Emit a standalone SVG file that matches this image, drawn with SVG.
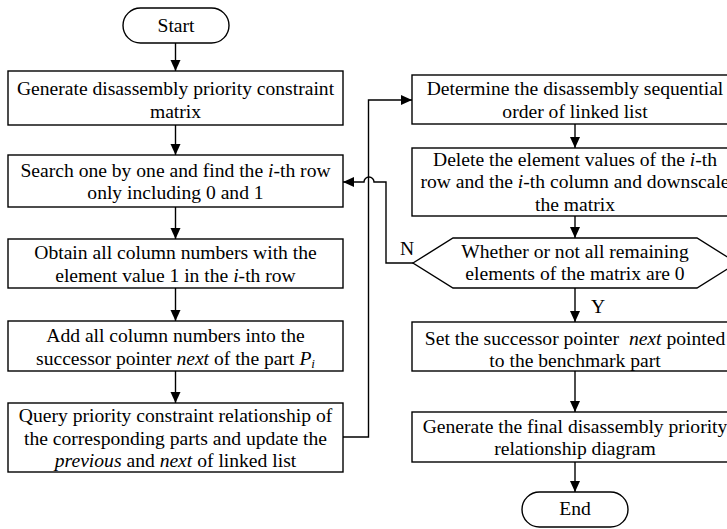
<svg xmlns="http://www.w3.org/2000/svg" width="727" height="529" viewBox="0 0 727 529">
<defs>
<marker id="ah" markerUnits="userSpaceOnUse" markerWidth="12" markerHeight="11" refX="11" refY="5" orient="auto">
<path d="M0,0 L11,5 L0,10 z" fill="#000"/>
</marker>
<style>
.b{fill:#fff;stroke:#000;stroke-width:1.4}
.c{fill:none;stroke:#000;stroke-width:1.4}
.a{marker-end:url(#ah)}
text{font-family:"Liberation Serif","Times New Roman",serif;font-size:19.6px;fill:#000;text-anchor:middle;white-space:pre}
.i{font-style:italic}
</style>
</defs>
<rect width="727" height="529" fill="#fff"/>

<g id="connectors">
<path class="c a" d="M175.5,43 V71"/>
<path class="c a" d="M175.5,125 V155"/>
<path class="c a" d="M175.5,207 V239"/>
<path class="c a" d="M175.5,288 V321"/>
<path class="c a" d="M175.5,371 V403"/>
<path class="c a" d="M343,437 H368.5 V100 H412"/>
<path class="c a" d="M575,124 V148"/>
<path class="c a" d="M575,216 V238"/>
<path class="c a" d="M413,263 H386 V182 H374 A5,5 0 0 0 364,182 H343"/>
<path class="c a" d="M575,288 V322"/>
<path class="c a" d="M575,371 V412"/>
<path class="c a" d="M575,462 V492"/>
<text x="407" y="255">N</text>
<text x="598" y="313">Y</text>
</g>

<g id="start">
<rect class="b" x="123" y="8" width="106" height="35" rx="17.5"/>
<text x="176" y="32">Start</text>
</g>

<g id="n1">
<rect class="b" x="8" y="71" width="335" height="54"/>
<text x="175.5" y="95">Generate disassembly priority constraint</text>
<text x="175.5" y="118">matrix</text>
</g>

<g id="n2">
<rect class="b" x="8" y="155" width="335" height="52"/>
<text x="175.5" y="177">Search one by one and find the <tspan class="i">i</tspan>-th row</text>
<text x="175.5" y="199">only including 0 and 1</text>
</g>

<g id="n3">
<rect class="b" x="8" y="239" width="335" height="49"/>
<text x="175.5" y="259">Obtain all column numbers with the</text>
<text x="175.5" y="282">element value 1 in the <tspan class="i">i</tspan>-th row</text>
</g>

<g id="n4">
<rect class="b" x="8" y="321" width="335" height="50"/>
<text x="175.5" y="342">Add all column numbers into the</text>
<text x="175.5" y="365">successor pointer <tspan class="i">next</tspan> of the part <tspan class="i">P</tspan><tspan class="i" font-size="13" dy="3">i</tspan></text>
</g>

<g id="n5">
<rect class="b" x="8" y="403" width="335" height="69"/>
<text x="175.5" y="422">Query priority constraint relationship of</text>
<text x="175.5" y="445">the corresponding parts and update the</text>
<text x="175.5" y="467"><tspan class="i">previous</tspan> and <tspan class="i">next</tspan> of linked list</text>
</g>

<g id="n6">
<rect class="b" x="412" y="75" width="326" height="49"/>
<text x="575" y="95">Determine the disassembly sequential</text>
<text x="575" y="118">order of linked list</text>
</g>

<g id="n7">
<rect class="b" x="412" y="148" width="326" height="68"/>
<text x="575" y="166">Delete the element values of the <tspan class="i">i</tspan>-th</text>
<text x="575" y="188">row and the <tspan class="i">i</tspan>-th column and downscale</text>
<text x="575" y="211">the matrix</text>
</g>

<g id="d1">
<polygon class="b" points="413,263 453,238 697,238 737,263 697,288 453,288"/>
<text x="575" y="258">Whether or not all remaining</text>
<text x="575" y="280">elements of the matrix are 0</text>
</g>

<g id="n8">
<rect class="b" x="412" y="322" width="326" height="49"/>
<text x="575" y="345">Set the successor pointer  <tspan class="i">next</tspan> pointed</text>
<text x="575" y="367">to the benchmark part</text>
</g>

<g id="n9">
<rect class="b" x="412" y="412" width="326" height="50"/>
<text x="575" y="433">Generate the final disassembly priority</text>
<text x="575" y="455">relationship diagram</text>
</g>

<g id="end">
<rect class="b" x="522" y="492" width="106" height="35" rx="17.5"/>
<text x="575" y="515">End</text>
</g>
</svg>
